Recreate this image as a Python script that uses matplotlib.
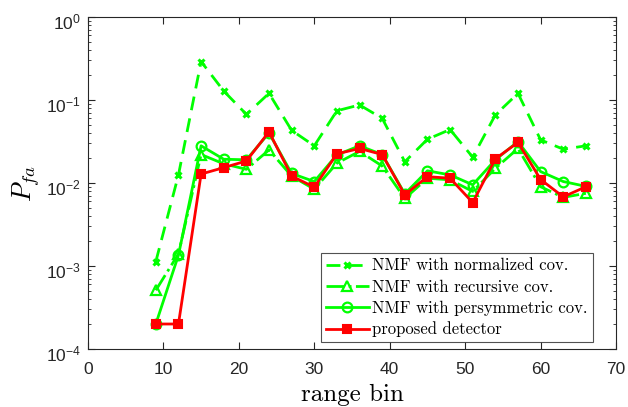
import numpy as np
import matplotlib.pyplot as plt
from matplotlib.ticker import LogLocator, NullFormatter, MultipleLocator
from matplotlib.transforms import ScaledTranslation

# range bins
range_bin = [9, 12, 15, 18, 21, 24, 27, 30, 33, 36, 39, 42, 45, 48, 51, 54, 57, 60, 63, 66]

# false alarm probabilities
pfa_normalized = [1.13e-3, 0.0125, 0.29, 0.128, 0.067, 0.12, 0.043, 0.028, 0.074, 0.087,
                  0.060, 0.018, 0.0336, 0.044, 0.0204, 0.066, 0.12, 0.033, 0.0255, 0.028]
pfa_recursive = [5.1e-4, 1.4e-3, 0.022, 0.017, 0.0146, 0.025, 0.0121, 0.0084, 0.0173, 0.024,
                 0.016, 0.0065, 0.0114, 0.0109, 0.0079, 0.015, 0.026, 0.009, 0.0067, 0.0075]
pfa_persym = [2.0e-4, 1.35e-3, 0.028, 0.0193, 0.019, 0.040, 0.013, 0.0104, 0.0218, 0.028,
              0.022, 0.0074, 0.014, 0.0125, 0.0095, 0.019, 0.0315, 0.0137, 0.0104, 0.0091]
pfa_proposed = [2.0e-4, 2.0e-4, 0.0128, 0.0153, 0.0184, 0.0413, 0.0121, 0.0089, 0.0224, 0.026,
                0.022, 0.0072, 0.0119, 0.0114, 0.0058, 0.0195, 0.0308, 0.011, 0.0068, 0.009]

labels = ["NMF with normalized cov.", "NMF with recursive cov.",
          "NMF with persymmetric cov.", "proposed detector"]

plt.rcParams['font.family'] = ['Liberation Sans', 'DejaVu Sans']
plt.rcParams['axes.unicode_minus'] = False

green = "#00ff00"
red = "#ff0000"

fig = plt.figure(figsize=(6.28, 4.07), dpi=100)
ax = fig.add_axes([0.140, 0.1425, 0.841, 0.816])

ax.semilogy(range_bin, pfa_normalized, color=green, ls=(0, (5, 3)), lw=2,
            marker='x', ms=5, mew=2.2, label=labels[0])
ax.semilogy(range_bin, pfa_recursive, color=green, ls='-.', lw=2,
            marker='^', ms=7.5, mew=1.6, mfc='none', label=labels[1])
ax.semilogy(range_bin, pfa_persym, color=green, ls='-', lw=2,
            marker='o', ms=7, mew=1.6, mfc='none', label=labels[2])
ax.semilogy(range_bin, pfa_proposed, color=red, ls='-', lw=2,
            marker='s', ms=5.5, mew=1.5, mfc=red, label=labels[3])

ax.set_xlim(0, 70)
ax.set_ylim(1e-4, 1)
ax.xaxis.set_major_locator(MultipleLocator(10))
ax.yaxis.set_major_locator(LogLocator(base=10, numticks=10))
ax.yaxis.set_minor_locator(LogLocator(base=10, subs=np.arange(2, 10), numticks=10))
ax.yaxis.set_minor_formatter(NullFormatter())

axis_col = "#262626"
for s in ax.spines.values():
    s.set_color(axis_col)
    s.set_linewidth(0.8)
ax.tick_params(which='both', direction='in', top=True, right=True, colors=axis_col,
               labelsize=12.5, labelcolor=axis_col)
ax.tick_params(which='major', length=5)
ax.tick_params(which='minor', length=2.5)
ax.tick_params(axis='x', which='major', pad=9)
ax.tick_params(axis='y', which='major', pad=5)

# MATLAB puts the log labels a little below the tick
fig.canvas.draw()
for lab in ax.get_yticklabels():
    lab.set_transform(lab.get_transform() + ScaledTranslation(0, -3 / 72, fig.dpi_scale_trans))

ax.set_xlabel("range bin", family='cmr10', fontsize=18, labelpad=5)
ax.set_ylabel(r"$P_{fa}$", fontsize=19, math_fontfamily='cm', labelpad=3)

leg = ax.legend(loc='lower right', bbox_to_anchor=(0.956, 0.02), prop={'family': 'cmr10', 'size': 12},
                handlelength=2.6, handletextpad=0.2, labelspacing=0.35,
                fancybox=False, edgecolor=axis_col, borderpad=0.3, borderaxespad=0)
leg.get_frame().set_linewidth(0.8)

fig.savefig("out.png", dpi=100)
